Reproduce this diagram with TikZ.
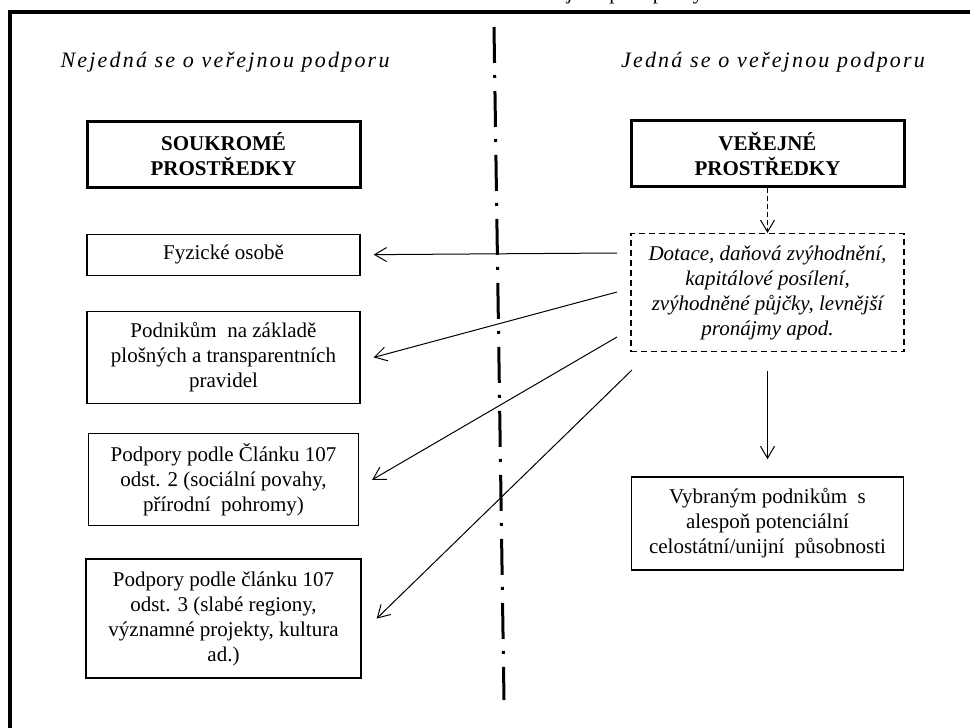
\documentclass[tikz,border=0pt]{standalone}
\usepackage{fontspec}
\setmainfont{Liberation Serif}
\newfontfamily\prolozene{Liberation Serif}[LetterSpace=10]
\newfontfamily\titulek{Liberation Serif}[LetterSpace=19]
\usepackage{tikz}
\usetikzlibrary{arrows.meta,positioning}
\tikzset{
uzel/.style = {align=center, inner sep=0pt, text centered,
font=\fontsize{21}{25}\selectfont},
box_t/.style = {uzel, rectangle, draw=black, line width=3pt, font=\fontsize{21}{25}\selectfont\bfseries, minimum width=273pt, minimum height=66pt},% tlusty ramecek, zdroj prostredku
box_n/.style = {uzel, rectangle, draw=black, line width=1.3pt, minimum width=273pt},% obycejny ramecek, prijemce
box_d/.style = {uzel, rectangle, draw=black, line width=1.2pt, dash pattern=on 6pt off 4pt, font=\fontsize{21}{25}\selectfont\itshape, minimum width=273pt, minimum height=118pt},% carkovany ramecek, formy podpory
nadpis/.style = {uzel, font=\fontsize{22}{25}\selectfont\prolozene\itshape},% nadpis sloupce
sipka/.style = {line width=1pt, -{Straight Barb[length=12pt,width=14pt]}},
osa/.style = {line width=3pt, dash pattern=on 36pt off 12pt on 3pt off 13pt},
ramecek/.style = {line width=4pt}
}
\begin{document}
\begin{tikzpicture}[x=1pt,y=-1pt]
	\useasboundingbox (0,0) rectangle (970,728);
	\begin{scope}
	  \clip (0,0) rectangle (970,10);
	  \node [anchor=base west, font=\fontsize{21}{25}\selectfont\titulek] (tit) at (511,-1) {veřejné podpory};
	\end{scope}
	\draw [ramecek] (10,740) -- (10,12) -- (980,12);
	% osa
	\coordinate (osa_h) at (494,27);
	\coordinate (osa_d) at (504,700);
	\draw [osa] (osa_h) -- (osa_d);
	% nadpisy
	\node [nadpis] (lh) at (225,62) {Nejedná se o veřejnou podporu};
	\node [nadpis] (rh) at (773,62) {Jedná se o veřejnou podporu};
	% levy sloupec
	\node [box_t] (sou) at (223.5,154) {SOUKROMÉ\\PROSTŘEDKY};
	\node [box_n, below=45pt of sou, minimum height=41pt] (fyz) {Fyzické osobě};
	\node [box_n, below=35pt of fyz, minimum height=92pt] (pod) {Podnikům\ \ na základě\\plošných a transparentních\\pravidel};
	\node [box_n, below=29pt of pod, minimum height=92pt, minimum width=270pt] (cl2) {Podpory podle Článku 107\\odst. 2 (sociální povahy,\\přírodní\ \ pohromy)};
	\node [box_n, below=32pt of cl2, minimum height=119pt, minimum width=275pt] (cl3) {Podpory podle článku 107\\odst. 3 (slabé regiony,\\významné projekty, kultura\\ad.)};
	% pravy sloupec
	\node [box_t] (ver) at (767.5,153.5) {VEŘEJNÉ\\PROSTŘEDKY};
	\node [box_d, below=45pt of ver] (dot) {Dotace, daňová zvýhodnění,\\kapitálové posílení,\\zvýhodněné půjčky, levnější\\pronájmy apod.};
	\node [box_n, below=124pt of dot, minimum height=93pt, minimum width=272pt] (vyb) {Vybraným podnikům\ \ s\\alespoň potenciální\\celostátní/unijní\ \ působnosti};
	% sipky
	\coordinate (s1) at (617,253);
	\coordinate (s2) at (617,292);
	\coordinate (s3) at (617,337);
	\coordinate (s4) at (632,370);
	\draw [sipka, dash pattern=on 5pt off 3pt] (ver) -- (dot);
	\draw [sipka, shorten <=19pt, shorten >=17pt] (dot) -- (vyb);
	\draw [sipka] (s1) -- ([xshift=13pt]fyz.east);
	\draw [sipka] (s2) -- ([xshift=13pt]pod.east);
	\draw [sipka] (s3) -- ([xshift=13pt]cl2.east);
	\draw [sipka] (s4) -- ([xshift=15pt]cl3.east);
\end{tikzpicture}
\end{document}
